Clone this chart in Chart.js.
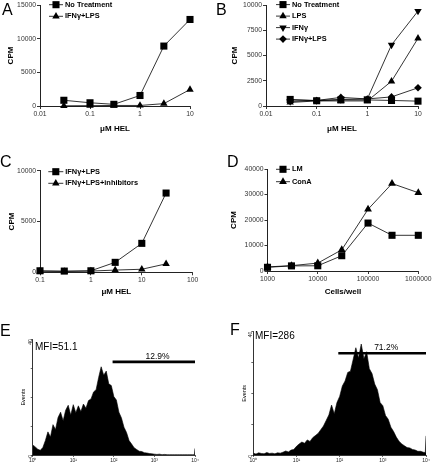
<!DOCTYPE html>
<html>
<head>
<meta charset="utf-8">
<script src="https://cdn.jsdelivr.net/npm/chart.js@4.4.1/dist/chart.umd.min.js"></script>
<style>
  body { margin: 0; background: #fff; }
  #fig { position: relative; width: 432px; height: 462px; overflow: hidden; background: #fff;
         font-family: "Liberation Sans", Arial, Helvetica, sans-serif; }
  #fig canvas { position: absolute; }
  .txt { position: absolute; line-height: 1; color: #000; white-space: nowrap; }
  .letter { font-size: 16px; }
  .mfi { font-size: 10px; }
</style>
</head>
<body>
<div id="fig">
  <canvas id="chartA" width="216" height="145" style="left:0;top:0"></canvas>
  <canvas id="chartB" width="216" height="145" style="left:216px;top:0"></canvas>
  <canvas id="chartC" width="216" height="150" style="left:0;top:150px"></canvas>
  <canvas id="chartD" width="216" height="150" style="left:216px;top:150px"></canvas>
  <canvas id="chartE" width="216" height="162" style="left:0;top:300px"></canvas>
  <canvas id="chartF" width="216" height="162" style="left:216px;top:300px"></canvas>

  <div class="txt letter" style="left:2px;top:1.5px">A</div>
  <div class="txt letter" style="left:216px;top:1.5px">B</div>
  <div class="txt letter" style="left:0;top:153.5px">C</div>
  <div class="txt letter" style="left:227px;top:153.5px">D</div>
  <div class="txt letter" style="left:0;top:323px">E</div>
  <div class="txt letter" style="left:230px;top:321.5px">F</div>
  <div class="txt mfi" style="left:35px;top:342px">MFI=51.1</div>
  <div class="txt mfi" style="left:255px;top:330.5px">MFI=286</div>
</div>
<script>
// ---- data ----
let helA = [0.03, 0.1, 0.3, 1, 3, 10];
let aNoTreatment = [850, 480, 250, 1560, 8900, 12850];
let aIfnLps = [30, 50, 80, 80, 350, 2450];

let helB = [0.03, 0.1, 0.3, 1, 3, 10];
let bNoTreatment = [650, 520, 600, 600, 550, 480];
let bLps = [350, 500, 500, 500, 2450, 6700];
let bIfn = [450, 550, 650, 700, 6050, 9400];
let bIfnLps = [600, 550, 850, 700, 900, 1800];

let helC = [0.1, 0.3, 1, 3, 10, 30];
let cIfnLps = [150, 120, 150, 980, 2850, 7800];
let cInhibitors = [100, 80, 120, 220, 300, 830];

let cellsD = [1000, 3000, 10000, 30000, 100000, 300000, 1000000];
let dLM = [1450, 2000, 2050, 6000, 18800, 14000, 14000];
let dConA = [1600, 2100, 3100, 8300, 24200, 34300, 30700];

// flow histograms: 256 log channels over 4 decades
let channels = [0, 4, 8, 12, 16, 20, 24, 28, 32, 36, 40, 44, 48, 52, 56, 60,
  64, 68, 72, 76, 80, 84, 88, 92, 96, 100, 104, 108, 112, 116, 120, 124,
  128, 132, 136, 140, 144, 148, 152, 156, 160, 164, 168, 172, 176, 180, 184, 188,
  192, 196, 200, 204, 208, 212, 216, 220, 224, 228, 232, 236, 240, 244, 248, 252, 255, 256];
let eCounts = [3.5, 2.8, 2.0, 1.6, 2.6, 5.0, 8.0, 6.2, 10.5, 8.8, 13.0, 14.8, 11.8, 15.5, 17.2, 13.8,
  17.4, 14.6, 17.0, 15.0, 17.6, 16.2, 18.8, 19.4, 21.8, 22.6, 26.8, 30.5, 27.6, 29.0, 24.6, 24.0,
  20.2, 19.0, 14.8, 12.8, 9.6, 7.8, 5.0, 3.8, 2.5, 1.9, 1.3, 1.2, 0.8, 0.7, 0.5, 0.4,
  0.3, 0.2, 0.3, 0.1, 0.2, 0.1, 0.1, 0.1, 0.1, 0.1, 0.1, 0.1, 0.1, 0.1, 0.1, 0.1, 0.1, 2.3];
let fCounts = [0.6, 0.3, 0.7, 0.5, 0.4, 0.8, 0.5, 0.6, 0.4, 0.7, 0.6, 0.9, 1.3, 1.0, 1.6, 1.8,
  2.8, 3.6, 4.2, 3.8, 4.9, 4.4, 5.6, 6.3, 7.0, 8.2, 9.4, 11.2, 13.0, 16.2, 13.4, 17.0,
  19.0, 22.4, 24.0, 26.8, 27.2, 31.0, 34.8, 31.5, 36.0, 31.2, 33.5, 28.0, 26.4, 23.0, 21.2, 17.0,
  16.0, 12.8, 11.6, 9.0, 7.6, 5.8, 4.5, 3.6, 3.0, 2.4, 2.3, 1.8, 1.6, 1.2, 1.2, 0.9, 0.8, 6.2];
let decadeLabels = ['10\u2070', '10\u00b9', '10\u00b2', '10\u00b3', '10\u2074'];
let gateE = [126, 256], gateLevelE = 32.2, gateTextE = '12.9%';
let gateF = [126, 256], gateLevelF = 33.0, gateTextF = '71.2%';

// ---- helpers ----
const FONT = '"Liberation Sans", Arial, Helvetica, sans-serif';

function fixSize(size, horizontal) {
  return function (scale) {
    if (horizontal) {
      scale.height = size;
      scale.paddingLeft = 0;
      scale.paddingRight = 0;
    } else {
      scale.width = size;
      scale.paddingTop = 0;
      scale.paddingBottom = 0;
    }
  };
}

function series(label, xs, values, style, radius, rotation) {
  return {
    label: label,
    data: xs.map((x, i) => ({ x: x, y: values[i] })),
    borderColor: '#000', backgroundColor: '#000', borderWidth: 0.8,
    pointStyle: style, pointRadius: radius, pointHoverRadius: radius,
    pointRotation: rotation || 0, pointBackgroundColor: '#000', pointBorderWidth: 0,
    tension: 0, clip: false
  };
}

// legend drawn inside the plot, line + marker + bold label
const insideLegend = {
  id: 'insideLegend',
  afterDraw(chart, args, opts) {
    if (!opts || opts.x === undefined) return;
    const ctx = chart.ctx;
    ctx.save();
    ctx.font = 'bold 7.4px ' + FONT;
    ctx.textBaseline = 'middle';
    ctx.fillStyle = '#000';
    ctx.strokeStyle = '#000';
    chart.data.datasets.forEach((ds, i) => {
      const y = opts.y + i * opts.dy;
      ctx.lineWidth = 0.8;
      ctx.beginPath();
      ctx.moveTo(opts.x, y);
      ctx.lineTo(opts.x + opts.len, y);
      ctx.stroke();
      Chart.helpers.drawPoint(ctx, {
        pointStyle: ds.pointStyle, radius: ds.pointRadius,
        rotation: ds.pointRotation || 0, borderWidth: 0
      }, opts.x + opts.len / 2, y);
      ctx.fillText(ds.label, opts.x + opts.len + 2, y);
    });
    ctx.restore();
  }
};

// percentage text above a gate bar
const gateText = {
  id: 'gateText',
  afterDraw(chart, args, opts) {
    if (!opts || !opts.text) return;
    const ctx = chart.ctx;
    ctx.save();
    ctx.font = '8.5px ' + FONT;
    ctx.fillStyle = '#000';
    ctx.textAlign = 'center';
    ctx.textBaseline = 'alphabetic';
    ctx.fillText(opts.text, chart.scales.x.getPixelForValue(opts.at),
      chart.scales.y.getPixelForValue(opts.level) - 3);
    ctx.restore();
  }
};

function cpmChart(id, cfg) {
  return new Chart(document.getElementById(id).getContext('2d'), {
    type: 'line',
    data: { datasets: cfg.datasets },
    plugins: [insideLegend],
    options: {
      responsive: false, animation: false, events: [],
      layout: { padding: { top: cfg.area.top, right: cfg.area.right, left: 0, bottom: 0 } },
      plugins: { legend: { display: false }, tooltip: { enabled: false }, insideLegend: cfg.legend },
      scales: {
        x: {
          type: 'logarithmic', min: cfg.xTicks[0], max: cfg.xTicks[cfg.xTicks.length - 1],
          afterBuildTicks: s => { s.ticks = cfg.xTicks.map(v => ({ value: v })); },
          afterFit: fixSize(cfg.area.xHeight, true),
          grid: { drawOnChartArea: false, tickLength: 3, color: '#000', lineWidth: 0.8 },
          border: { color: '#222', width: 1 },
          ticks: { font: { family: FONT, size: 6.8 }, color: '#333', padding: 1,
                   maxRotation: 0, autoSkip: false, callback: v => String(v) },
          title: { display: true, text: cfg.xTitle, color: '#000',
                   font: { family: FONT, size: 8, weight: 'bold' },
                   padding: { top: 0, bottom: cfg.area.xTitlePad } }
        },
        y: {
          min: 0, max: cfg.yMax,
          afterBuildTicks: s => { s.ticks = cfg.yTicks.map(v => ({ value: v })); },
          afterFit: fixSize(cfg.area.left, false),
          grid: { drawOnChartArea: false, tickLength: 3, color: '#000', lineWidth: 0.8 },
          border: { color: '#222', width: 1 },
          ticks: { font: { family: FONT, size: 6.8 }, color: '#333', padding: 1,
                   autoSkip: false, callback: v => String(v) },
          title: { display: true, text: 'CPM', color: '#000',
                   font: { family: FONT, size: 8, weight: 'bold' },
                   padding: { top: cfg.area.yTitlePad, bottom: 0 } }
        }
      }
    }
  });
}

function flowChart(id, cfg) {
  return new Chart(document.getElementById(id).getContext('2d'), {
    type: 'line',
    data: {
      datasets: [
        {
          data: channels.map((c, i) => ({ x: c, y: cfg.counts[i] })),
          borderColor: '#000', backgroundColor: '#000', borderWidth: 0.6,
          pointRadius: 0, fill: 'origin', tension: 0
        },
        {
          data: cfg.gate.map(c => ({ x: c, y: cfg.level })),
          borderColor: '#000', borderWidth: 2.6, pointRadius: 0, fill: false, clip: false
        }
      ]
    },
    plugins: [gateText],
    options: {
      responsive: false, animation: false, events: [],
      layout: { padding: { top: cfg.area.top, right: cfg.area.right, left: 0, bottom: 0 } },
      plugins: { legend: { display: false }, tooltip: { enabled: false },
                 gateText: { text: cfg.text, at: 197, level: cfg.level } },
      scales: {
        x: {
          type: 'linear', min: 0, max: 256,
          afterBuildTicks: s => { s.ticks = [0, 64, 128, 192, 256].map(v => ({ value: v })); },
          afterFit: fixSize(cfg.area.xHeight, true),
          grid: { drawOnChartArea: false, tickLength: 2, color: '#000', lineWidth: 0.6 },
          border: { color: '#000', width: 0.8 },
          ticks: { font: { family: FONT, size: 5 }, color: '#222', padding: 0.5,
                   maxRotation: 0, autoSkip: false, callback: v => decadeLabels[Math.round(v / 64)] }
        },
        y: {
          min: 0, max: 40,
          afterBuildTicks: s => { s.ticks = [0, 10, 20, 30, 40].map(v => ({ value: v })); },
          afterFit: fixSize(cfg.area.left, false),
          grid: { drawOnChartArea: false, tickLength: 2, color: '#000', lineWidth: 0.6 },
          border: { color: '#000', width: 0.8 },
          ticks: { font: { family: FONT, size: 5 }, color: '#222', padding: 0.5,
                   minRotation: 90, maxRotation: 90, autoSkip: false,
                   callback: v => (v === 0 || v === 40) ? String(v) : '' },
          title: { display: true, text: 'Events', color: '#000',
                   font: { family: FONT, size: 5.5 },
                   padding: { top: cfg.area.yTitlePad, bottom: 0 } }
        }
      }
    }
  });
}

// ---- panels ----
let chartA = cpmChart('chartA', {
  area: { left: 40, top: 3, right: 26, xHeight: 39, xTitlePad: 11.9, yTitlePad: 5.5 },
  xTicks: [0.01, 0.1, 1, 10], xTitle: '\u03bcM HEL',
  yMax: 15000, yTicks: [0, 5000, 10000, 15000],
  legend: { x: 49, y: 4.7, dy: 11.6, len: 14 },
  datasets: [
    series('No Treatment', helA, aNoTreatment, 'rect', 5),
    series('IFN\u03b3+LPS', helA, aIfnLps, 'triangle', 4.3)
  ]
});

let chartB = cpmChart('chartB', {
  area: { left: 50, top: 3, right: 14, xHeight: 39, xTitlePad: 11.9, yTitlePad: 14 },
  xTicks: [0.01, 0.1, 1, 10], xTitle: '\u03bcM HEL',
  yMax: 10000, yTicks: [0, 2500, 5000, 7500, 10000],
  legend: { x: 60, y: 4.6, dy: 11.5, len: 14 },
  datasets: [
    series('No Treatment', helB, bNoTreatment, 'rect', 5),
    series('LPS', helB, bLps, 'triangle', 4.3),
    series('IFN\u03b3', helB, bIfn, 'triangle', 4.3, 180),
    series('IFN\u03b3+LPS', helB, bIfnLps, 'rectRot', 3.8)
  ]
});

let chartC = cpmChart('chartC', {
  area: { left: 40, top: 20.7, right: 23.3, xHeight: 27.7, xTitlePad: 3.2, yTitlePad: 6.9 },
  xTicks: [0.1, 1, 10, 100], xTitle: '\u03bcM HEL',
  yMax: 10000, yTicks: [0, 5000, 10000],
  legend: { x: 48.3, y: 21.7, dy: 11.6, len: 15 },
  datasets: [
    series('IFN\u03b3+LPS', helC, cIfnLps, 'rect', 5),
    series('IFN\u03b3+LPS+inhibitors', helC, cInhibitors, 'triangle', 4.3)
  ]
});

let chartD = cpmChart('chartD', {
  area: { left: 51.5, top: 19, right: 13.7, xHeight: 29, xTitlePad: 3, yTitlePad: 13 },
  xTicks: [1000, 10000, 100000, 1000000], xTitle: 'Cells/well',
  yMax: 40000, yTicks: [0, 10000, 20000, 30000, 40000],
  legend: { x: 60, y: 19.3, dy: 12.4, len: 14 },
  datasets: [
    series('LM', cellsD, dLM, 'rect', 5),
    series('ConA', cellsD, dConA, 'triangle', 4.5)
  ]
});

let chartE = flowChart('chartE', {
  area: { left: 32.7, top: 39.3, right: 21, xHeight: 7, yTitlePad: 20 },
  counts: eCounts, gate: gateE, level: gateLevelE, text: gateTextE
});

let chartF = flowChart('chartF', {
  area: { left: 37.3, top: 31.7, right: 6, xHeight: 7, yTitlePad: 25 },
  counts: fCounts, gate: gateF, level: gateLevelF, text: gateTextF
});
</script>
</body>
</html>
